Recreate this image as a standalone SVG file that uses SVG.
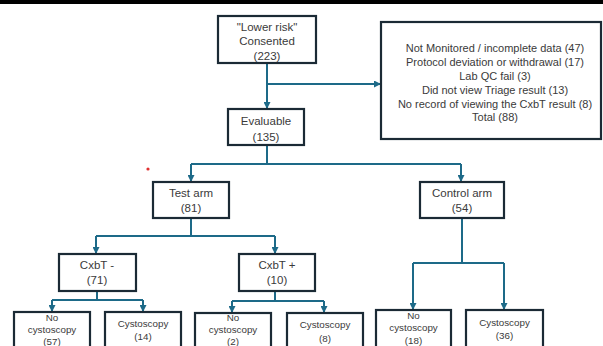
<svg xmlns="http://www.w3.org/2000/svg" width="603" height="346" viewBox="0 0 603 346">
<style>
.box{fill:#fff;stroke:#1b2a35;stroke-width:2.2}
.t{font-family:"Liberation Sans",Arial,sans-serif;fill:#3a3a3a;text-anchor:middle}
.m{font-size:11.5px}
.s{font-size:9.8px}
.r{font-size:11px}
.c{fill:none;stroke:#1d6a88;stroke-width:2}
</style>
<defs>
<marker id="ah" markerWidth="7" markerHeight="7" refX="6" refY="3.5" orient="auto" markerUnits="userSpaceOnUse">
<path d="M0,0 L7,3.5 L0,7 Z" fill="#1d6a88"/>
</marker>
</defs>
<rect x="0" y="0" width="603" height="4" fill="#000"/>
<circle cx="148" cy="169" r="1.6" fill="#e03030"/>
<g id="connectors">
<path class="c" d="M267,63 V108" marker-end="url(#ah)"/>
<path class="c" d="M267,84 H380" marker-end="url(#ah)"/>
<path class="c" d="M267,145 V164 M191,164 H461"/>
<path class="c" d="M191,164 V181" marker-end="url(#ah)"/>
<path class="c" d="M461,164 V181" marker-end="url(#ah)"/>
<path class="c" d="M191,218 V236 M96,236 H275"/>
<path class="c" d="M96,236 V253" marker-end="url(#ah)"/>
<path class="c" d="M275,236 V253" marker-end="url(#ah)"/>
<path class="c" d="M97,291 V300 M52,300 H143"/>
<path class="c" d="M52,300 V311" marker-end="url(#ah)"/>
<path class="c" d="M143,300 V311" marker-end="url(#ah)"/>
<path class="c" d="M275,291 V301 M232,301 H324"/>
<path class="c" d="M232,301 V312" marker-end="url(#ah)"/>
<path class="c" d="M324,301 V312" marker-end="url(#ah)"/>
<path class="c" d="M462,218 V263 M413,263 H504"/>
<path class="c" d="M413,263 V309" marker-end="url(#ah)"/>
<path class="c" d="M504,263 V309" marker-end="url(#ah)"/>
</g>
<g id="consented">
<rect class="box" x="218" y="16" width="98" height="47"/>
<text class="t m" x="267" y="31">"Lower risk"</text>
<text class="t m" x="267" y="45">Consented</text>
<text class="t m" x="267" y="60">(223)</text>
</g>
<g id="excluded">
<rect class="box" x="381" y="22" width="220" height="117"/>
<text class="t r" x="495" y="52">Not Monitored / incomplete data (47)</text>
<text class="t r" x="495" y="66">Protocol deviation or withdrawal (17)</text>
<text class="t r" x="495" y="80">Lab QC fail (3)</text>
<text class="t r" x="495" y="94">Did not view Triage result (13)</text>
<text class="t r" x="495" y="108">No record of viewing the CxbT result (8)</text>
<text class="t r" x="495" y="121">Total (88)</text>
</g>
<g id="evaluable">
<rect class="box" x="228" y="109" width="76" height="36"/>
<text class="t m" x="266" y="125">Evaluable</text>
<text class="t m" x="266" y="141">(135)</text>
</g>
<g id="testarm">
<rect class="box" x="153" y="182" width="76" height="36"/>
<text class="t m" x="191" y="197">Test arm</text>
<text class="t m" x="191" y="212">(81)</text>
</g>
<g id="controlarm">
<rect class="box" x="420" y="182" width="84" height="36"/>
<text class="t m" x="462" y="197">Control arm</text>
<text class="t m" x="462" y="212">(54)</text>
</g>
<g id="cxbtneg">
<rect class="box" x="59" y="254" width="77" height="37"/>
<text class="t m" x="97" y="269">CxbT -</text>
<text class="t m" x="97" y="284">(71)</text>
</g>
<g id="cxbtpos">
<rect class="box" x="239" y="254" width="76" height="37"/>
<text class="t m" x="277" y="269">CxbT +</text>
<text class="t m" x="277" y="284">(10)</text>
</g>
<g id="nocysto57">
<rect class="box" x="14" y="312" width="76" height="40"/>
<text class="t s" x="52" y="321">No</text>
<text class="t s" x="52" y="333">cystoscopy</text>
<text class="t s" x="52" y="345">(57)</text>
</g>
<g id="cysto14">
<rect class="box" x="105" y="312" width="76" height="40"/>
<text class="t s" x="143" y="327">Cystoscopy</text>
<text class="t s" x="143" y="340">(14)</text>
</g>
<g id="nocysto2">
<rect class="box" x="195" y="313" width="76" height="40"/>
<text class="t s" x="233" y="321">No</text>
<text class="t s" x="233" y="333">cystoscopy</text>
<text class="t s" x="233" y="345">(2)</text>
</g>
<g id="cysto8">
<rect class="box" x="287" y="313" width="76" height="40"/>
<text class="t s" x="325" y="328">Cystoscopy</text>
<text class="t s" x="325" y="342">(8)</text>
</g>
<g id="nocysto18">
<rect class="box" x="376" y="310" width="75" height="40"/>
<text class="t s" x="413.5" y="319">No</text>
<text class="t s" x="413.5" y="331">cystoscopy</text>
<text class="t s" x="413.5" y="344">(18)</text>
</g>
<g id="cysto36">
<rect class="box" x="466" y="310" width="77" height="40"/>
<text class="t s" x="504.5" y="326">Cystoscopy</text>
<text class="t s" x="504.5" y="339">(36)</text>
</g>
</svg>
